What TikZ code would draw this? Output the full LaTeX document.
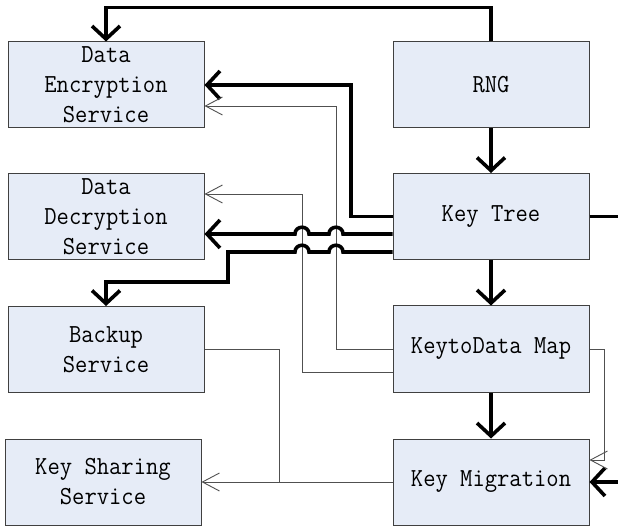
\documentclass[tikz,border=0pt]{standalone}
\usepackage{fontspec}
\newfontfamily\boxfont{Latin Modern Mono}[FakeStretch=0.92]
\usetikzlibrary{arrows.meta}
\definecolor{boxfill}{HTML}{E6ECF7}
\definecolor{thinline}{HTML}{505050}
\tikzset{
  box/.style={draw=black!75, line width=1pt, fill=boxfill, minimum width=196pt, minimum height=86pt, inner sep=0pt, align=center, font=\boxfont\fontsize{26}{30}\selectfont},
  thickarrow/.style={line width=3.6pt, -{Straight Barb[length=13pt,width=28pt,line width=3.6pt]}},
  thickline/.style={line width=3.6pt},
  thinarrow/.style={line width=0.9pt, draw=thinline, -{Straight Barb[length=17pt,width=18pt,line width=0.9pt]}},
  thinline/.style={line width=0.9pt, draw=thinline},
}
\begin{document}
\begin{tikzpicture}[x=1pt,y=-1pt]
\useasboundingbox (0,0) rectangle (618,526);
\node[box] (DE) at (106,85) {Data\\Encryption\\Service};
\node[box] (RNG) at (491,85) {RNG};
\node[box] (DD) at (106,216.5) {Data\\Decryption\\Service};
\node[box] (KT) at (491,216.5) {Key Tree};
\node[box] (BK) at (106,349.5) {Backup\\Service};
\node[box] (KDM) at (491,349) {KeytoData Map};
\node[box] (KS) at (103,482) {Key Sharing\\Service};
\node[box] (KM) at (491,482) {Key Migration};
\coordinate (edgeA) at (618,216.5);
\coordinate (edgeB) at (618,482);

% thick connectors
\draw[thickarrow] (RNG.north) -- ++(0,-34) -| (DE.north);
\draw[thickarrow] (RNG.south) -- (KT.north);
\draw[thickarrow] (KT.west) -- (351,216.5) |- (DE.east);
\draw[thickarrow] (KT.south) -- (KDM.north);
\draw[thickarrow] (KDM.south) -- (KM.north);
\draw[thickline] (KT.east) -- (edgeA);
\draw[thickarrow] (edgeB) -- (KM.east);

% thin connectors
\draw[thinarrow] (KDM.west) -- (336,349) |- ([yshift=-21pt]DE.east);
\draw[thinarrow] ([yshift=-23pt]KDM.west) -- (302,372) |- ([yshift=22.5pt]DD.east);
\draw[thinarrow] (KDM.east) -- (604,349) |- ([yshift=22pt]KM.east);
\draw[thinarrow] (KM.west) -- (KS.east);
\draw[thinline] (BK.east) -| (279,482);

% thick connectors with jumps
\draw[thickarrow] ([yshift=-17.5pt]KT.west) -- (343,234)
  .. controls (343,225) and (329,225) .. (329,234) -- (309,234)
  .. controls (309,225) and (295,225) .. (295,234) -- ([yshift=-17.5pt]DD.east);
\draw[thickarrow] ([yshift=-35.5pt]KT.west) -- (343,252)
  .. controls (343,243) and (329,243) .. (329,252) -- (309,252)
  .. controls (309,243) and (295,243) .. (295,252) -- (228,252) -- (228,282) -| (BK.north);
\end{tikzpicture}
\end{document}
